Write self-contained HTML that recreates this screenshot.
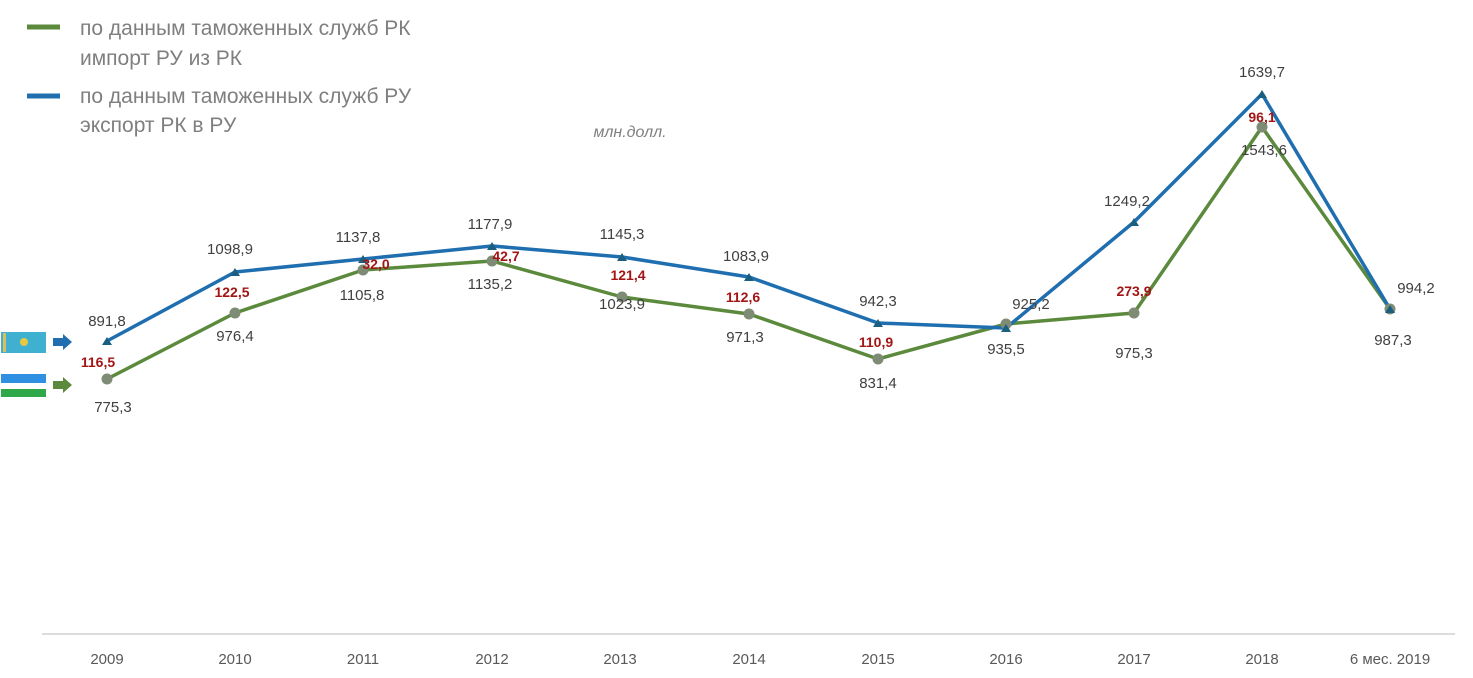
<!DOCTYPE html>
<html><head><meta charset="utf-8"><style>
html,body{margin:0;padding:0;background:#fff;}
svg{display:block;font-family:"Liberation Sans",sans-serif;}
.v{font-size:15px;fill:#404040;text-anchor:middle;}
.r{font-size:14px;font-weight:bold;fill:#a31515;text-anchor:middle;}
.y{font-size:15px;fill:#595959;text-anchor:middle;}
.l{font-size:21px;fill:#7f7f7f;}
</style></head><body>
<svg width="1473" height="678" viewBox="0 0 1473 678">
<line x1="27" y1="27" x2="60" y2="27" stroke="#5b8a3c" stroke-width="5"/>
<text class="l" x="80" y="35">по данным таможенных служб РК</text>
<text class="l" x="80" y="65">импорт РУ из РК</text>
<line x1="27" y1="96" x2="60" y2="96" stroke="#1f6fb0" stroke-width="5"/>
<text class="l" x="80" y="103">по данным таможенных служб РУ</text>
<text class="l" x="80" y="132">экспорт РК в РУ</text>
<text x="630" y="137" style="font-size:16px;font-style:italic;fill:#7f7f7f;text-anchor:middle">млн.долл.</text>

<rect x="1" y="332" width="45" height="21" fill="#3fb0cf"/>
<circle cx="24" cy="342" r="4" fill="#e8c840"/>
<rect x="3" y="333" width="3" height="19" fill="#d8c060"/>
<path d="M53 338 H63 V334 L72 342 L63 350 V346 H53 Z" fill="#1f6fb0"/>
<rect x="1" y="374" width="45" height="9" fill="#2f8fe0"/>
<rect x="1" y="383" width="45" height="3" fill="#fff"/>
<rect x="1" y="389" width="45" height="8" fill="#2fa84a"/>
<path d="M53 381 H63 V377 L72 385 L63 393 V389 H53 Z" fill="#5b8a3c"/>

<line x1="42" y1="634" x2="1455" y2="634" stroke="#d0d0d0" stroke-width="1.5"/>
<g class="y">
<text x="107" y="664">2009</text><text x="235" y="664">2010</text><text x="363" y="664">2011</text>
<text x="492" y="664">2012</text><text x="620" y="664">2013</text><text x="749" y="664">2014</text>
<text x="878" y="664">2015</text><text x="1006" y="664">2016</text><text x="1134" y="664">2017</text>
<text x="1262" y="664">2018</text><text x="1390" y="664">6 мес. 2019</text>
</g>

<polyline fill="none" stroke="#5b8a3c" stroke-width="3.5" stroke-linejoin="round" points="107,379 235,313 363,270 492,261 622,297 749,314 878,359 1006,324 1134,313 1262,127 1390,309"/>
<polyline fill="none" stroke="#1f6fb0" stroke-width="3.5" stroke-linejoin="round" points="107,341 235,272 363,259 492,246 622,257 749,277 878,323 1006,328 1134,222 1262,94 1390,309"/>
<g fill="#7f8c75">
<circle cx="107" cy="379" r="5.5"/><circle cx="235" cy="313" r="5.5"/><circle cx="363" cy="270" r="5.5"/><circle cx="492" cy="261" r="5.5"/><circle cx="622" cy="297" r="5.5"/><circle cx="749" cy="314" r="5.5"/><circle cx="878" cy="359" r="5.5"/><circle cx="1006" cy="324" r="5.5"/><circle cx="1134" cy="313" r="5.5"/><circle cx="1262" cy="127" r="5.5"/><circle cx="1390" cy="309" r="5.5"/>
</g>
<g fill="#1a5f80">
<path d="M102,345 L107,337 L112,345Z"/><path d="M230,276 L235,268 L240,276Z"/><path d="M358,263 L363,255 L368,263Z"/><path d="M487,250 L492,242 L497,250Z"/><path d="M617,261 L622,253 L627,261Z"/><path d="M744,281 L749,273 L754,281Z"/><path d="M873,327 L878,319 L883,327Z"/><path d="M1001,332 L1006,324 L1011,332Z"/><path d="M1129,226 L1134,218 L1139,226Z"/><path d="M1257,98 L1262,90 L1267,98Z"/><path d="M1385,313 L1390,305 L1395,313Z"/>
</g>
<g class="v">
<text x="107" y="326">891,8</text><text x="113" y="412">775,3</text>
<text x="230" y="254">1098,9</text><text x="235" y="341">976,4</text>
<text x="358" y="242">1137,8</text><text x="362" y="300">1105,8</text>
<text x="490" y="229">1177,9</text><text x="490" y="289">1135,2</text>
<text x="622" y="239">1145,3</text><text x="622" y="309">1023,9</text>
<text x="746" y="261">1083,9</text><text x="745" y="342">971,3</text>
<text x="878" y="306">942,3</text><text x="878" y="388">831,4</text>
<text x="1031" y="309">925,2</text><text x="1006" y="354">935,5</text>
<text x="1127" y="206">1249,2</text><text x="1134" y="358">975,3</text>
<text x="1262" y="77">1639,7</text><text x="1264" y="155">1543,6</text>
<text x="1416" y="293">994,2</text><text x="1393" y="345">987,3</text>
</g>
<g class="r">
<text x="98" y="367">116,5</text><text x="232" y="297">122,5</text><text x="376" y="269">32,0</text>
<text x="506" y="261">42,7</text><text x="628" y="280">121,4</text><text x="743" y="302">112,6</text>
<text x="876" y="347">110,9</text><text x="1134" y="296">273,9</text><text x="1262" y="122">96,1</text>
</g>
</svg>
</body></html>
